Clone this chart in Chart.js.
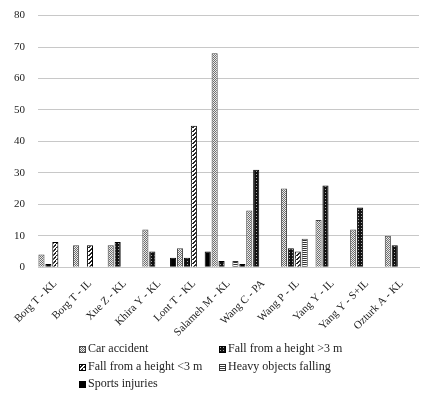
<!DOCTYPE html>
<html>
<head>
<meta charset="utf-8">
<script src="https://cdn.jsdelivr.net/npm/chart.js@4"></script>
<style>
  body { margin: 0; background: #fff; }
  #wrap { position: relative; width: 439px; height: 398px; overflow: hidden; }
  #box { position: absolute; left: 0; top: -4px; width: 439px; height: 349px; }
  .leg { position: absolute; font-family: "Liberation Serif", serif; font-size: 12px; color: #222; white-space: nowrap; line-height: 14px; }
  .leg canvas { vertical-align: -1px; margin-right: 2px; }
</style>
</head>
<body>
<div id="wrap">
  <div id="box"><canvas id="myBarChart"></canvas></div>
  <div id="legend"></div>
</div>
<script>
const categories = ['Borg T - KL', 'Borg T - IL', 'Xue Z - KL', 'Khira Y - KL', 'Lont T - KL', 'Salameh M - KL',
  'Wang C - PA', 'Wang P - IL', 'Yang Y - IL', 'Yang Y - S+IL', 'Ozturk A - KL'];
const carAccident = [4, 7, 7, 12, 6, 68, 18, 25, 15, 12, 10];
const fallAbove3 = [1, null, 8, 5, 3, 2, 31, 6, 26, 19, 7];
const fallBelow3 = [8, 7, null, null, 45, null, null, 5, null, null, null];
const heavyObjects = [null, null, null, null, null, 2, null, 9, null, null, null];
const sportsInjuries = [null, null, null, 3, 5, 1, null, null, null, null, null];
const yTicks = [0, 10, 20, 30, 40, 50, 60, 70, 80];

// small tile canvases for the fill patterns
function tile(size, draw) {
    const c = document.createElement('canvas');
    c.width = size; c.height = size;
    draw(c.getContext('2d'));
    return c;
}
const tiles = {
    car: tile(2, function(g) {
        g.fillStyle = '#ececec'; g.fillRect(0, 0, 2, 2);
        g.fillStyle = '#6e6e6e'; g.fillRect(0, 0, 1, 1); g.fillRect(1, 1, 1, 1);
    }),
    above: tile(3, function(g) {
        g.fillStyle = '#111'; g.fillRect(0, 0, 3, 3);
        g.fillStyle = '#aaa'; g.fillRect(1, 1, 1, 1);
    }),
    below: tile(4, function(g) {
        g.fillStyle = '#fff'; g.fillRect(0, 0, 4, 4);
        g.fillStyle = '#222';
        for (let i = 0; i < 4; i++) { g.fillRect(3 - i, i, 2, 1); }
        g.fillRect(0, 3, 1, 1);
    }),
    heavy: tile(2, function(g) {
        g.fillStyle = '#fff'; g.fillRect(0, 0, 2, 2);
        g.fillStyle = '#333'; g.fillRect(0, 0, 2, 1);
    }),
    sports: tile(2, function(g) {
        g.fillStyle = '#000'; g.fillRect(0, 0, 2, 2);
    })
};

const ctx = document.getElementById('myBarChart').getContext('2d');
function pat(name) { return ctx.createPattern(tiles[name], 'repeat'); }

const seriesList = [
    { label: 'Car accident', data: carAccident, key: 'car', border: '#444' },
    { label: 'Fall from a height >3 m', data: fallAbove3, key: 'above', border: '#000' },
    { label: 'Fall from a height <3 m', data: fallBelow3, key: 'below', border: '#000' },
    { label: 'Heavy objects falling', data: heavyObjects, key: 'heavy', border: '#333' },
    { label: 'Sports injuries', data: sportsInjuries, key: 'sports', border: '#000' }
];

const myBarChart = new Chart(ctx, {
    type: 'bar',
    data: {
        labels: categories,
        datasets: seriesList.map(function(s) {
            return {
                label: s.label,
                data: s.data,
                backgroundColor: pat(s.key),
                borderColor: s.border,
                borderWidth: 1,
                categoryPercentage: 1.0,
                barPercentage: 0.88
            };
        })
    },
    options: {
        responsive: true,
        maintainAspectRatio: false,
        animation: false,
        layout: { padding: { top: 3, left: 1, right: 20, bottom: 4 } },
        plugins: {
            legend: { display: false },
            tooltip: { enabled: false }
        },
        scales: {
            x: {
                grid: { display: false },
                border: { color: '#c8c8c8' },
                ticks: {
                    color: '#222',
                    font: { family: 'Liberation Serif', size: 11 },
                    minRotation: 45, maxRotation: 45, autoSkip: false, padding: 2
                }
            },
            y: {
                min: 0, max: 80,
                afterBuildTicks: function(axis) { axis.ticks = yTicks.map(function(v) { return { value: v }; }); },
                grid: { color: '#c8c8c8', drawTicks: false },
                border: { display: false },
                ticks: {
                    color: '#222',
                    font: { family: 'Liberation Serif', size: 11 },
                    padding: 13
                }
            }
        }
    }
});

// legend in two columns, like the original
const legendPos = [
    { x: 79, y: 341 }, { x: 219, y: 341 },
    { x: 79, y: 359 }, { x: 219, y: 359 },
    { x: 79, y: 376 }
];
const legendEl = document.getElementById('legend');
seriesList.forEach(function(s, i) {
    const item = document.createElement('div');
    item.className = 'leg';
    item.style.left = legendPos[i].x + 'px';
    item.style.top = legendPos[i].y + 'px';
    const sw = document.createElement('canvas');
    sw.width = 7; sw.height = 7;
    const g = sw.getContext('2d');
    g.fillStyle = g.createPattern(tiles[s.key], 'repeat');
    g.fillRect(0, 0, 7, 7);
    g.strokeStyle = s.border; g.lineWidth = 1;
    g.strokeRect(0.5, 0.5, 6, 6);
    item.appendChild(sw);
    item.appendChild(document.createTextNode(s.label));
    legendEl.appendChild(item);
});
</script>
</body>
</html>
